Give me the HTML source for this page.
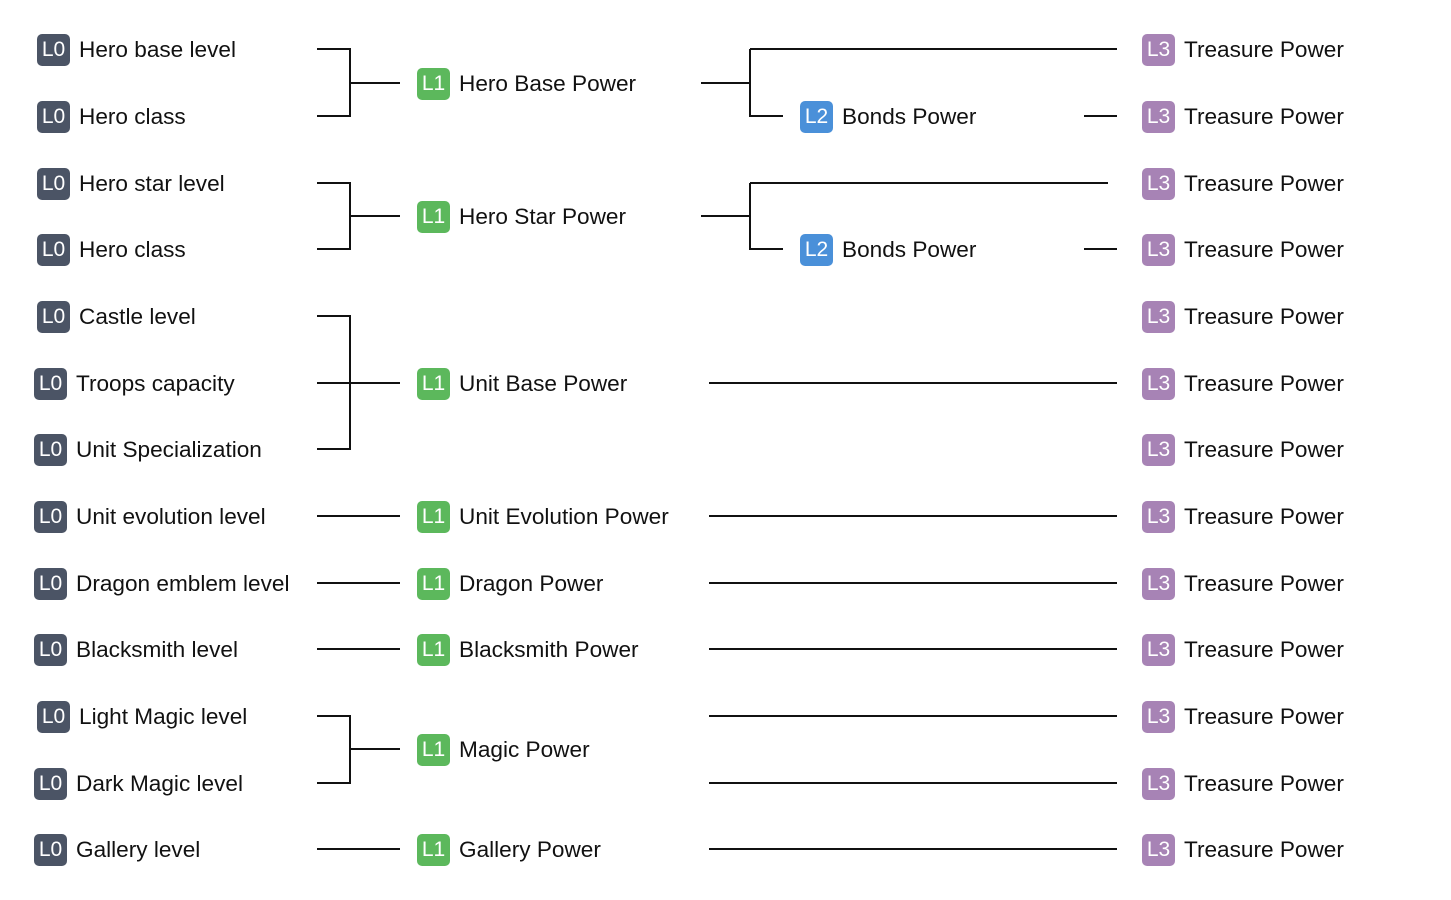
<!DOCTYPE html>
<html><head><style>
body{margin:0;width:1451px;height:900px;background:#fff;position:relative;font-family:"Liberation Sans",sans-serif;overflow:hidden}
.n{position:absolute;display:flex;align-items:center;height:34px;font-size:22.6px;color:#111;white-space:nowrap;margin-top:1px}
.b{width:33px;height:32px;border-radius:5px;color:#fff;display:flex;align-items:center;justify-content:center;margin-right:9px;font-size:21px}
.l0{background:#4b5465}.l1{background:#5cb85c}.l2{background:#4a90d9}.l3{background:#a783b5}
svg{position:absolute;left:0;top:0}
</style></head><body>
<svg width="1451" height="900" stroke="#111" stroke-width="2" fill="none">
<path d="M317 49H350V116H317M350 83H400"/>
<path d="M317 183H350V249H317M350 216H400"/>
<path d="M317 316H350V449H317M317 383H400"/>
<path d="M317 716H350V783H317M350 749H400"/>
<path d="M317 516H400M317 583H400M317 649H400M317 849H400"/>
<path d="M701 83H750M750 49V116H783M750 49H1117"/>
<path d="M701 216H750M750 183V249H783M750 183H1108"/>
<path d="M1084 116H1117M1084 249H1117"/>
<path d="M709 383H1117M709 516H1117M709 583H1117M709 649H1117M709 716H1117M709 783H1117M709 849H1117"/>
</svg>
<div class="n" style="left:37px;top:32px"><span class="b l0">L0</span>Hero base level</div>
<div class="n" style="left:37px;top:99px"><span class="b l0">L0</span>Hero class</div>
<div class="n" style="left:37px;top:166px"><span class="b l0">L0</span>Hero star level</div>
<div class="n" style="left:37px;top:232px"><span class="b l0">L0</span>Hero class</div>
<div class="n" style="left:37px;top:299px"><span class="b l0">L0</span>Castle level</div>
<div class="n" style="left:34px;top:366px"><span class="b l0">L0</span>Troops capacity</div>
<div class="n" style="left:34px;top:432px"><span class="b l0">L0</span>Unit Specialization</div>
<div class="n" style="left:34px;top:499px"><span class="b l0">L0</span>Unit evolution level</div>
<div class="n" style="left:34px;top:566px"><span class="b l0">L0</span>Dragon emblem level</div>
<div class="n" style="left:34px;top:632px"><span class="b l0">L0</span>Blacksmith level</div>
<div class="n" style="left:37px;top:699px"><span class="b l0">L0</span>Light Magic level</div>
<div class="n" style="left:34px;top:766px"><span class="b l0">L0</span>Dark Magic level</div>
<div class="n" style="left:34px;top:832px"><span class="b l0">L0</span>Gallery level</div>

<div class="n" style="left:417px;top:66px"><span class="b l1">L1</span>Hero Base Power</div>
<div class="n" style="left:417px;top:199px"><span class="b l1">L1</span>Hero Star Power</div>
<div class="n" style="left:417px;top:366px"><span class="b l1">L1</span>Unit Base Power</div>
<div class="n" style="left:417px;top:499px"><span class="b l1">L1</span>Unit Evolution Power</div>
<div class="n" style="left:417px;top:566px"><span class="b l1">L1</span>Dragon Power</div>
<div class="n" style="left:417px;top:632px"><span class="b l1">L1</span>Blacksmith Power</div>
<div class="n" style="left:417px;top:732px"><span class="b l1">L1</span>Magic Power</div>
<div class="n" style="left:417px;top:832px"><span class="b l1">L1</span>Gallery Power</div>

<div class="n" style="left:800px;top:99px"><span class="b l2">L2</span>Bonds Power</div>
<div class="n" style="left:800px;top:232px"><span class="b l2">L2</span>Bonds Power</div>

<div class="n" style="left:1142px;top:32px"><span class="b l3">L3</span>Treasure Power</div>
<div class="n" style="left:1142px;top:99px"><span class="b l3">L3</span>Treasure Power</div>
<div class="n" style="left:1142px;top:166px"><span class="b l3">L3</span>Treasure Power</div>
<div class="n" style="left:1142px;top:232px"><span class="b l3">L3</span>Treasure Power</div>
<div class="n" style="left:1142px;top:299px"><span class="b l3">L3</span>Treasure Power</div>
<div class="n" style="left:1142px;top:366px"><span class="b l3">L3</span>Treasure Power</div>
<div class="n" style="left:1142px;top:432px"><span class="b l3">L3</span>Treasure Power</div>
<div class="n" style="left:1142px;top:499px"><span class="b l3">L3</span>Treasure Power</div>
<div class="n" style="left:1142px;top:566px"><span class="b l3">L3</span>Treasure Power</div>
<div class="n" style="left:1142px;top:632px"><span class="b l3">L3</span>Treasure Power</div>
<div class="n" style="left:1142px;top:699px"><span class="b l3">L3</span>Treasure Power</div>
<div class="n" style="left:1142px;top:766px"><span class="b l3">L3</span>Treasure Power</div>
<div class="n" style="left:1142px;top:832px"><span class="b l3">L3</span>Treasure Power</div>
</body></html>
